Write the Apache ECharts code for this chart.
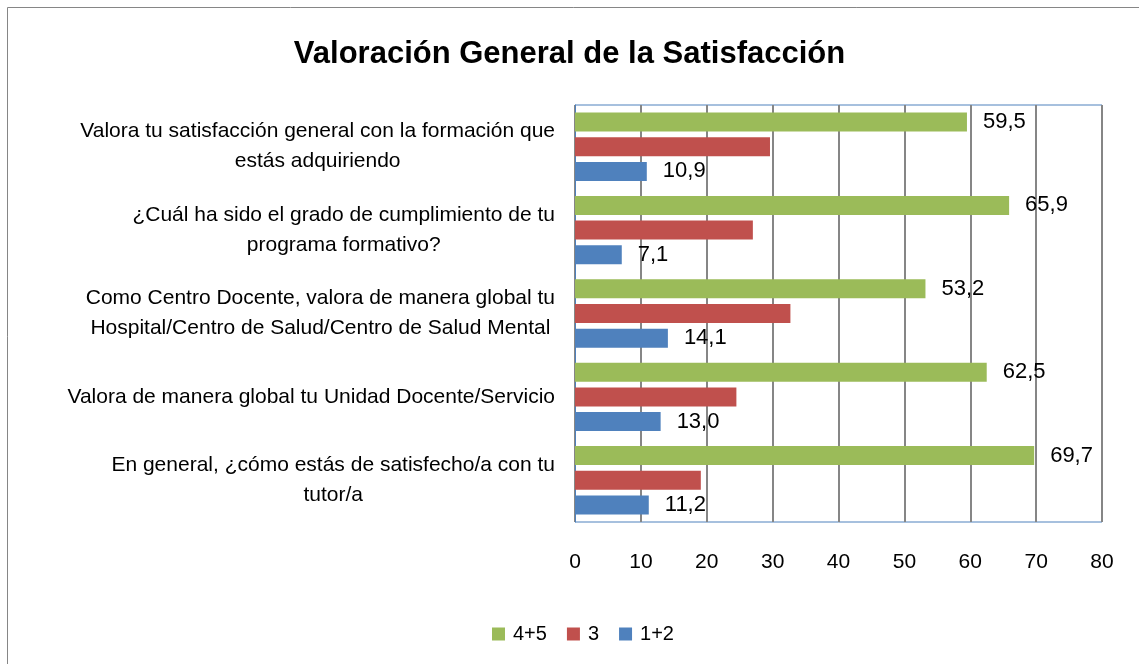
<!DOCTYPE html>
<html>
<head>
    <meta charset="utf-8">
    <title>Valoración General de la Satisfacción</title>
    <script src="https://cdn.jsdelivr.net/npm/echarts@6.0.0/dist/echarts.min.js"></script>
    <style>
        html, body { margin: 0; padding: 0; background: #fff; }
        #chart { width: 1139px; height: 664px; }
    </style>
</head>
<body>
<div id="chart"></div>
<script>
  // preguntas (eje vertical), de arriba abajo
  var preguntas = [
      'Valora tu satisfacción general con la formación que\nestás adquiriendo',
      '¿Cuál ha sido el grado de cumplimiento de tu\nprograma formativo?',
      'Como Centro Docente, valora de manera global tu\nHospital/Centro de Salud/Centro de Salud Mental',
      'Valora de manera global tu Unidad Docente/Servicio',
      'En general, ¿cómo estás de satisfecho/a con tu\ntutor/a'
  ];
  var series45 = [59.5, 65.9, 53.2, 62.5, 69.7];
  var series3  = [29.6, 27.0, 32.7, 24.5, 19.1];
  var series12 = [10.9, 7.1, 14.1, 13.0, 11.2];
  var nombres = ['4+5', '3', '1+2'];
  var ticksX = [0, 10, 20, 30, 40, 50, 60, 70, 80];

  var fuente = '"Liberation Sans", Arial, sans-serif';
  var coma = function (p) { return p.value.toFixed(1).replace('.', ','); };

  var myChart = echarts.init(document.getElementById('chart'));
  myChart.setOption({
      animation: false,
      title: {
          text: 'Valoración General de la Satisfacción',
          left: 'center',
          top: 34,
          textStyle: { fontFamily: fuente, fontSize: 31, fontWeight: 'bold', color: '#000' }
      },
      graphic: [{
          type: 'rect',
          shape: { x: 7.5, y: 7.5, width: 1140, height: 680 },
          style: { fill: null, stroke: '#868686', lineWidth: 1 },
          silent: true
      }],
      legend: {
          data: nombres,
          top: 619,
          left: 487,
          itemWidth: 13,
          itemHeight: 13,
          itemGap: 20,
          icon: 'rect',
          textStyle: { fontFamily: fuente, fontSize: 20, color: '#000', padding: [0, 0, 0, 3] }
      },
      grid: {
          left: 575, right: 37, top: 105, bottom: 142,
          show: true, borderColor: '#4F81BD', borderWidth: 1,
          containLabel: false
      },
      xAxis: {
          type: 'value',
          min: 0, max: 80, interval: 10,
          axisLine: { show: false },
          axisTick: { show: false },
          axisLabel: {
              margin: 30, fontFamily: fuente, fontSize: 21, color: '#000',
              formatter: function (v) { return ticksX.indexOf(v) >= 0 ? String(v) : ''; }
          },
          splitLine: { show: true, lineStyle: { color: '#868686', width: 2 } }
      },
      yAxis: {
          type: 'category',
          data: preguntas,
          inverse: true,
          axisLine: { show: true, lineStyle: { color: '#4F81BD', width: 1 } },
          axisTick: { show: false },
          axisLabel: {
              margin: 20,
              align: 'right',
              fontFamily: fuente,
              fontSize: 21,
              lineHeight: 30,
              color: '#000',
              formatter: function (v) {
                  return v.split('\n').map(function (l) { return '{c|' + l + '}'; }).join('\n');
              },
              rich: {
                  c: { align: 'center', fontFamily: fuente, fontSize: 21, lineHeight: 30, color: '#000' }
              }
          }
      },
      series: [
          {
              name: nombres[0], type: 'bar', data: series45,
              barWidth: 19, barGap: '30%', barCategoryGap: '20%',
              itemStyle: { color: '#9BBB59' },
              label: { show: true, position: 'right', distance: 16, formatter: coma,
                       fontFamily: fuente, fontSize: 22, color: '#000' }
          },
          {
              name: nombres[1], type: 'bar', data: series3,
              barWidth: 19, barGap: '30%',
              itemStyle: { color: '#C0504D' }
          },
          {
              name: nombres[2], type: 'bar', data: series12,
              barWidth: 19, barGap: '30%',
              itemStyle: { color: '#4F81BD' },
              label: { show: true, position: 'right', distance: 16, formatter: coma,
                       fontFamily: fuente, fontSize: 22, color: '#000' }
          }
      ]
  });
</script>
</body>
</html>
